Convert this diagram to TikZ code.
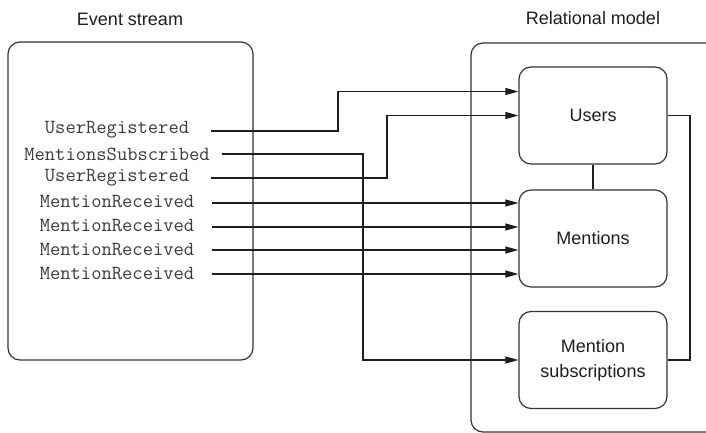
\documentclass[tikz,border=0pt]{standalone}
\usepackage{fontspec}
\setmainfont{Liberation Sans}
\usetikzlibrary{arrows.meta,calc}
\definecolor{ink}{HTML}{1E1E1E}
\definecolor{boxline}{HTML}{333333}
\definecolor{evgray}{HTML}{3A3A3A}
\tikzset{
  panel/.style={draw=boxline, line width=1.2pt, rounded corners=12pt},
  tablebox/.style={draw=boxline, line width=1.2pt, rounded corners=12pt, minimum width=148pt, minimum height=97pt, align=center, font=\fontsize{18}{25}\selectfont, text=ink},
  evtext/.style={inner sep=0pt, font=\ttfamily\fontsize{20}{22}\selectfont, text=evgray},
  title/.style={font=\fontsize{18}{21}\selectfont, text=ink},
  conn/.style={draw=ink, line width=1.1pt},
  arr/.style={conn, -{Triangle[length=13pt,width=7pt]}},
}
\begin{document}
\begin{tikzpicture}[x=1pt,y=-1pt]
\useasboundingbox (0,0) rectangle (706,433);
% titles
\node[title] (evtitle) at (130,19) {Event stream};
\node[title] (reltitle) at (593,18) {Relational model};
% event stream panel
\node[panel, minimum width=245pt, minimum height=318pt, inner sep=0pt] (evbox) at (130.5,201) {};
% relational model panel (open to the right)
\draw[draw=boxline, line width=1.2pt, rounded corners=12pt] (707,43) -- (471,43) -- (471,432) -- (707,432);
% tables
\node[tablebox] (users) at (593,115.5) {Users};
\node[tablebox] (mentions) at (593,238.5) {Mentions};
\node[tablebox] (subs) at (593,360) {Mention\\subscriptions};
% events
\node[evtext] (e1) at (117,130) {UserRegistered};
\node[evtext] (e2) at (117,154) {MentionsSubscribed};
\node[evtext] (e3) at (117,178) {UserRegistered};
\node[evtext] (e4) at (117,202) {MentionReceived};
\node[evtext] (e5) at (117,226) {MentionReceived};
\node[evtext] (e6) at (117,250) {MentionReceived};
\node[evtext] (e7) at (117,274) {MentionReceived};
% start points
\coordinate (s1) at (211,131);
\coordinate (s2) at (222,154);
\coordinate (s3) at (211,178);
\coordinate (s4) at (212,203);
\coordinate (s5) at (212,227);
\coordinate (s6) at (212,250);
\coordinate (s7) at (212,274);
% connectors
\draw[arr] (s1) -- (338,131) |- ([yshift=24pt]users.west);
\draw[arr] (s3) -- (387,178) |- (users.west);
\draw[arr] (s2) -- (363,154) |- (subs.west);
\draw[arr] (s4) -- (s4 -| mentions.west);
\draw[arr] (s5) -- (s5 -| mentions.west);
\draw[arr] (s6) -- (s6 -| mentions.west);
\draw[arr] (s7) -- (s7 -| mentions.west);
\draw[conn] (users.south) -- (mentions.north);
\draw[conn] (users.east) -- (690,115.5) |- (subs.east);
\end{tikzpicture}
\end{document}
